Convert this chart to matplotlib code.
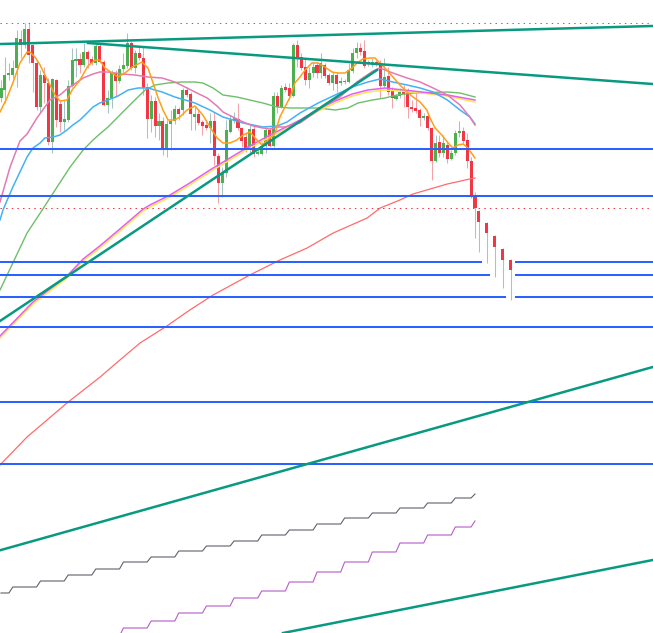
import numpy as np
import matplotlib.pyplot as plt

# candle data, in chart levels (smaller number = higher price, axis is inverted)
opens = [98, 90, 75, 75, 68, 39, 45, 29, 45, 63,
         107, 75, 83, 142, 80, 104, 122, 120, 86, 61,
         59, 65, 52, 59, 63, 46, 62, 105, 98, 73,
         81, 69, 66, 43, 68, 53, 58, 87, 119, 101,
         126, 121, 148, 124, 121, 109, 110, 90, 94, 117,
         114, 122, 125, 128, 121, 156, 183, 173, 132, 121,
         119, 128, 137, 150, 129, 154, 154, 146, 130, 146,
         96, 107, 87, 88, 96, 45, 57, 67, 80, 73,
         65, 73, 65, 75, 83, 75, 83, 82, 82, 71,
         53, 48, 51, 62, 65, 62, 63, 86, 76, 90,
         99, 96, 92, 93, 107, 108, 110, 118, 116, 128,
         161, 142, 153, 145, 159, 153, 133, 131, 140, 161,
         197, 211, 223, 236, 249, 260]
highs = [80, 57, 63, 60, 30, 30, 23, 23, 44, 60,
         70, 67, 78, 78, 79, 100, 100, 80, 48, 48,
         53, 43, 50, 56, 43, 44, 60, 90, 70, 70,
         65, 53, 33, 41, 50, 47, 47, 83, 95, 97,
         113, 117, 120, 110, 105, 107, 88, 87, 92, 107,
         110, 120, 120, 113, 112, 153, 167, 120, 115, 112,
         103, 127, 132, 125, 125, 148, 142, 127, 127, 92,
         92, 85, 83, 83, 43, 40, 53, 58, 67, 62,
         62, 53, 63, 73, 72, 72, 77, 79, 63, 48,
         42, 43, 40, 60, 58, 60, 60, 58, 67, 87,
         94, 88, 85, 88, 100, 93, 108, 113, 113, 127,
         135, 135, 135, 142, 150, 130, 121, 127, 133, 157,
         192, 210, 222, 235, 248, 259]
lows = [102, 103, 80, 78, 87, 58, 48, 63, 92, 110,
        113, 103, 145, 153, 127, 132, 130, 122, 87, 77,
        73, 67, 68, 65, 65, 63, 106, 113, 108, 97,
        83, 73, 68, 70, 73, 60, 95, 138, 132, 137,
        140, 155, 157, 150, 124, 120, 115, 97, 130, 130,
        125, 135, 130, 143, 165, 203, 197, 177, 133, 123,
        130, 147, 152, 153, 157, 155, 155, 153, 147, 147,
        113, 108, 92, 100, 97, 67, 70, 85, 88, 77,
        78, 78, 78, 85, 90, 92, 85, 84, 83, 73,
        58, 55, 68, 66, 67, 66, 98, 87, 95, 108,
        100, 98, 107, 118, 112, 113, 126, 120, 130, 180,
        162, 157, 157, 163, 160, 155, 137, 143, 168, 198,
        238, 252, 263, 277, 288, 300]
closes = [88, 75, 73, 68, 38, 45, 29, 55, 63, 107,
          75, 83, 142, 79, 120, 122, 119, 86, 60, 59,
          65, 52, 59, 63, 46, 62, 105, 98, 73, 81,
          69, 65, 43, 68, 53, 58, 88, 119, 101, 126,
          121, 148, 124, 121, 109, 114, 90, 95, 114, 114,
          123, 126, 128, 121, 156, 183, 173, 130, 120, 118,
          128, 141, 150, 129, 154, 152, 146, 130, 146, 96,
          107, 88, 90, 96, 45, 58, 68, 80, 73, 67,
          73, 63, 76, 83, 75, 84, 81, 81, 70, 53,
          48, 52, 66, 64, 62, 63, 86, 77, 92, 98,
          96, 92, 94, 107, 109, 111, 118, 116, 128, 161,
          143, 153, 143, 159, 153, 133, 131, 141, 161, 196,
          208, 222, 233, 247, 260, 270]
late_slots = [120, 121, 123, 125, 127, 129]

# moving averages: (bar, level) samples
ma_orange_x = [-0.25, 1.5, 3, 4.8, 6.6, 7.3, 8.6, 9.9, 11.1, 12.4, 13.7, 14.9, 16.7, 18, 20, 22, 23.8, 25,
               26.3, 28.1, 29.6, 31.4, 33.2, 35.7, 37.2, 38.5, 39.7, 41, 42.3, 44, 45.3, 47.1, 49.1, 51.1,
               52.9, 54.7, 56.2, 58, 59.7, 61.3, 63, 64.8, 66.1, 67.6, 69.4, 70.6, 72.4, 73.2, 74.4, 75.7,
               77, 78.7, 80.3, 82, 83.8, 85.3, 87.1, 88.9, 90.1, 91.6, 93.4, 94.7, 95.9, 97.7, 99.2, 101,
               102.8, 104.3, 106.1, 107.8, 108.6, 109.9, 111.6, 113.2, 114.4, 115.7, 117, 118.2, 120]
ma_orange_y = [112, 98, 83, 63, 52, 52, 57, 65, 75, 85, 95, 101, 100, 90, 80, 66, 60, 60,
               68, 73, 77, 73, 67, 62, 68, 83, 97, 110, 120, 120, 117, 110, 106, 115,
               127, 138, 143, 143, 140, 135, 132, 140, 145, 140, 133, 117, 103, 97, 83, 77,
               70, 63, 63, 67, 72, 73, 73, 68, 63, 59, 58, 58, 63, 70, 77, 85,
               92, 97, 102, 110, 118, 128, 135, 143, 148, 145, 144, 148, 158]

ma_pink_x = [-0.25, 2.3, 4.8, 6.6, 9.1, 12.4, 14.9, 16.7, 18.2, 20.8, 23.3, 25, 27.1, 30.6, 33.9, 37.2,
             40.8, 44, 46.6, 49.1, 52.2, 54.7, 56.2, 58.7, 61.3, 63.8, 66.3, 68.1, 69.9, 71.9, 75.7, 78.2,
             81.5, 85.8, 90.1, 92.7, 94.2, 95.9, 99.2, 102.8, 106.1, 109.4, 113, 116.2, 118.7, 120]
ma_pink_y = [202, 167, 141, 134, 118, 100, 95, 89, 85, 78, 74, 72, 72, 74, 75, 77,
             78, 82, 87, 92, 98, 106, 112, 117, 122, 126, 128, 129, 127, 127, 123, 116,
             107, 97, 82, 75, 71, 68, 73, 78, 82, 88, 95, 105, 117, 125]

ma_blue_x = [-0.25, 0.5, 3, 4.8, 6.6, 8.1, 9.9, 11.1, 13.2, 14.9, 16.7, 18.2, 20, 21.8, 23.3, 25, 27.1,
             29.6, 32.2, 34.7, 37.2, 40.8, 44, 46.6, 49.1, 52.9, 56.2, 61.3, 66.3, 69.9, 72.4, 75.7, 80.3,
             84.6, 88.9, 92.9, 95.9, 99.2, 102.8, 106.1, 109.4, 113, 116.2, 118.7, 120]
ma_blue_y = [220, 210, 187, 172, 157, 148, 143, 138, 137, 135, 130, 125, 120, 113, 107, 103, 100,
             96, 90, 88, 88, 92, 97, 100, 103, 110, 117, 123, 127, 126, 122, 113, 103,
             95, 87, 82, 79, 82, 85, 88, 92, 100, 110, 117, 124]

ma_green_x = [-0.25, 3, 6.6, 10.6, 14.2, 17.5, 20.8, 23.3, 25, 27.1, 30.6, 33.9, 36.5, 39, 42.3, 45.8,
              49.1, 51.1, 53.7, 56.2, 59.7, 63, 66.3, 69.9, 73.2, 80.3, 84.6, 87.8, 90.4, 94, 97.2, 100.3,
              104.3, 113, 116.2, 120]
ma_green_y = [290, 263, 233, 209, 187, 167, 150, 140, 134, 127, 113, 100, 90, 85, 83, 82,
              82, 83, 88, 95, 97, 100, 103, 107, 108, 108, 110, 108, 103, 100, 98, 95,
              93, 92, 93, 97]

ma_slow_x = [-0.25, 8.1, 16.7, 20.8, 25, 30.1, 36, 37.7, 42.8, 47.8, 52.9, 55.4, 63, 68.1, 73.2, 76.2,
             80.3, 84.6, 88.9, 92.9, 97.2, 104.3, 113, 120]
ma_yellow_y = [338, 304, 278, 261, 248, 231, 211, 207, 197, 185, 172, 166, 148, 137, 127, 121,
               111, 103, 96, 92, 90, 92, 96, 102]
ma_magenta_y = [336, 302, 276, 259, 246, 229, 209, 205, 195, 183, 170, 164, 146, 135, 125, 119,
                109, 101, 94, 90, 88, 91, 95, 100]

ma_red_x = [-0.25, 6.6, 16.7, 25.1, 30.1, 35.2, 42, 47.8, 53.7, 63, 70.6, 77.5, 84.1, 92.7, 96, 101,
            104.3, 113, 118.7, 120]
ma_red_y = [465, 437, 403, 377, 360, 343, 326, 310, 295, 275, 260, 248, 233, 218, 208, 200,
            194, 184, 179, 178]

# step lines (one level per block of bars)
gray_levels = [593, 587, 581, 575, 569, 562, 557, 551, 546, 541, 535, 530, 524, 518, 513, 508, 503, 498, 494]
gray_counts = [3] + [7] * 16 + [5, 1]
purple_levels = [636, 628, 621, 613, 606, 598, 591, 582, 572, 562, 552, 543, 535, 527, 521]
purple_counts = [7] * 13 + [5, 1]
purple_start = 24

# horizontal levels and dotted lines
h_levels = [148.5, 195.5, 261.5, 275, 296.5, 326.5, 401.5, 464]
# levels that are hidden behind the last candles: level -> bar where the break starts
h_breaks = {261.5: 121.8, 275: 123.8, 296.5: 127.8}
gray_dot_level = 22.7
red_dot_level = 208.3

# trendlines: pairs of (bar, level)
trend_full = [((0, 44), (165, 26)), ((0, 550), (165, 367)), ((71.4, 633), (165, 560))]
trend_segs = [((22, 43), (166, 84.3)), ((-0.25, 321), (95.2, 70))]

fig = plt.figure(figsize=(6.53, 6.33), dpi=100)
ax = fig.add_axes([0, 0, 1, 1])
ax.set_xlim(-0.25, 165.06)
ax.set_ylim(633, 0)
ax.axis('off')

o = np.array(opens, float)
hi = np.array(highs, float)
lo = np.array(lows, float)
c = np.array(closes, float)
x = np.array(list(range(len(opens) - len(late_slots))) + late_slots, float)
up = c < o

wick_col = np.where(up, '#a3c4c2', '#f5a3ab')
body_col = np.where(up, '#4caf50', '#f23645')
ax.vlines(x, hi, lo, colors=wick_col, lw=0.75, zorder=2)
bottom = np.minimum(o, c)
height = np.maximum(np.abs(o - c), 1.0)
ax.bar(x, height, bottom=bottom, width=0.78, color=body_col, lw=0, zorder=2.5)

# moving averages
ax.plot(ma_red_x, ma_red_y, color='#ff6b6b', lw=0.9, zorder=3)
ax.plot(ma_green_x, ma_green_y, color='#6dbf6a', lw=1.0, zorder=3)
ax.plot(ma_slow_x, ma_yellow_y, color='#ffe34d', lw=1.1, zorder=3)
ax.plot(ma_slow_x, ma_magenta_y, color='#e35ff0', lw=1.1, zorder=3)
ax.plot(ma_blue_x, ma_blue_y, color='#45b1f5', lw=1.1, zorder=3)
ax.plot(ma_pink_x, ma_pink_y, color='#e57ab3', lw=1.1, zorder=3)
ax.plot(ma_orange_x, ma_orange_y, color='#ff9f1a', lw=1.1, zorder=3)

# step lines
gray_vals = np.repeat(gray_levels, gray_counts)
ax.plot(np.arange(len(gray_vals)), gray_vals, color='#5f626c', lw=0.8, zorder=3)
purple_vals = np.repeat(purple_levels, purple_counts)
ax.plot(purple_start + np.arange(len(purple_vals)), purple_vals, color='#b55cc8', lw=0.8, zorder=3)

# horizontal levels
for lvl in h_levels:
    if lvl in h_breaks:
        ax.hlines(lvl, -1, h_breaks[lvl], color='#2962ff', lw=1.45, zorder=4)
        ax.hlines(lvl, late_slots[-1] + 1, 170, color='#2962ff', lw=1.45, zorder=4)
    else:
        ax.hlines(lvl, -1, 170, color='#2962ff', lw=1.45, zorder=4)

ax.axhline(gray_dot_level, color='#787b86', lw=0.75, dashes=(1.4, 4), zorder=4)
ax.axhline(red_dot_level, color='#f23645', lw=0.75, dashes=(1.4, 4), zorder=4)

# trendlines
for p1, p2 in trend_full:
    ax.axline(p1, p2, color='#089981', lw=1.8, zorder=5)
for p1, p2 in trend_segs:
    ax.plot([p1[0], p2[0]], [p1[1], p2[1]], color='#089981', lw=1.8, zorder=5)

fig.savefig('out.png', dpi=100, facecolor='white')
